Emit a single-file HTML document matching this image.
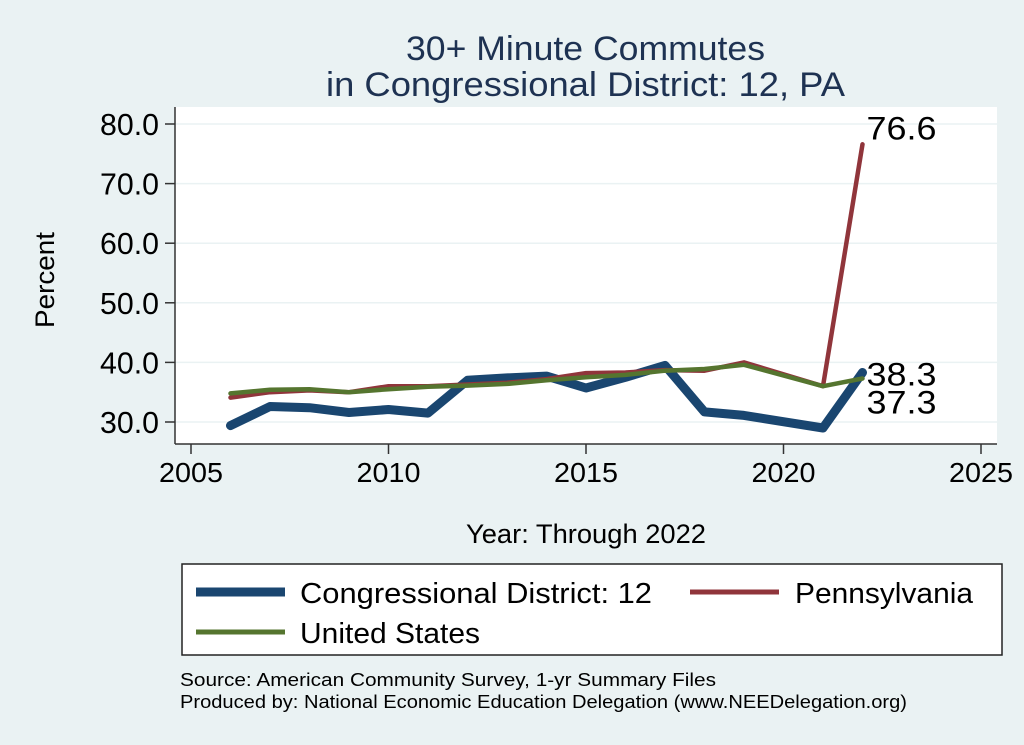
<!DOCTYPE html>
<html><head><meta charset="utf-8"><style>
body{margin:0;background:#eaf2f3;font-family:"Liberation Sans",Arial,sans-serif;}
svg{display:block}
</style></head><body>
<svg width="1024" height="745" viewBox="0 0 1024 745" xmlns="http://www.w3.org/2000/svg" font-family="Liberation Sans, Arial, sans-serif">
<rect width="1024" height="745" fill="#eaf2f3"/>
<text x="406" y="60" font-size="34" textLength="359" lengthAdjust="spacingAndGlyphs" fill="#1e3252">30+ Minute Commutes</text>
<text x="326" y="96" font-size="34" textLength="519" lengthAdjust="spacingAndGlyphs" fill="#1e3252">in Congressional District:  12, PA</text>
<rect x="175" y="107" width="822" height="337" fill="#fff"/>
<g id="grid"></g>
<g id="axes"></g>
<g id="series"></g>
<text x="54" y="328" font-size="27" textLength="96" lengthAdjust="spacingAndGlyphs" transform="rotate(-90 54 328)">Percent</text>
<text x="466" y="543" font-size="27" textLength="240" lengthAdjust="spacingAndGlyphs">Year: Through 2022</text>
<g>
<rect x="182" y="564" width="820" height="91" fill="#fff" stroke="#222" stroke-width="1.5"/>
<line x1="196" y1="592" x2="285" y2="592" stroke="#1a4670" stroke-width="9"/>
<text x="300" y="603" font-size="29" textLength="352" lengthAdjust="spacingAndGlyphs">Congressional District:  12</text>
<line x1="690" y1="592" x2="779" y2="592" stroke="#90353b" stroke-width="5"/>
<text x="795" y="603" font-size="29" textLength="178" lengthAdjust="spacingAndGlyphs">Pennsylvania</text>
<line x1="196" y1="632" x2="285" y2="632" stroke="#55752f" stroke-width="5"/>
<text x="300" y="643" font-size="29" textLength="180" lengthAdjust="spacingAndGlyphs">United States</text>
</g>
<text x="180" y="686" font-size="18" textLength="536" lengthAdjust="spacingAndGlyphs">Source: American Community Survey, 1-yr Summary Files</text>
<text x="180" y="708" font-size="18" textLength="727" lengthAdjust="spacingAndGlyphs">Produced by: National Economic Education Delegation (www.NEEDelegation.org)</text>
</svg>
<script>
const years=[2006,2007,2008,2009,2010,2011,2012,2013,2014,2015,2016,2017,2018,2019,2021,2022];
const cdValues=[29.4,32.6,32.4,31.6,32.1,31.5,37.0,37.4,37.7,35.7,37.5,39.5,31.7,31.1,29.0,38.3];
const paValues=[34.1,35.0,35.3,35.0,36.0,36.0,36.3,36.6,37.2,38.2,38.3,38.7,38.6,40.0,36.0,76.6];
const usValues=[34.8,35.4,35.5,35.0,35.5,35.9,36.1,36.4,37.0,37.5,37.9,38.6,38.9,39.6,36.0,37.3];
const yTicks=[30,40,50,60,70,80];
const xTicks=[2005,2010,2015,2020,2025];
const NS='http://www.w3.org/2000/svg';
const xs=v=>191+(v-2005)*(981-191)/20;
const ys=v=>422-(v-30)*(422-124)/50;
function mk(t,a,p){const e=document.createElementNS(NS,t);for(const k in a)e.setAttribute(k,a[k]);p.appendChild(e);return e;}
const grid=document.getElementById('grid'),axes=document.getElementById('axes'),ser=document.getElementById('series');
yTicks.forEach(v=>{
 const g=mk('line',{x1:175,x2:997,y1:ys(v),y2:ys(v),stroke:'#eaf2f3','stroke-width':1.5},grid);
 
 
 const t=mk('line',{x1:165,x2:175,y1:ys(v),y2:ys(v),stroke:'#333','stroke-width':1.5},axes);
 
 
 const l=mk('text',{x:100,y:ys(v)+11,'font-size':31,textLength:59,lengthAdjust:'spacingAndGlyphs'},axes);
 l.textContent=v.toFixed(1);
 
 
});
xTicks.forEach(v=>{
 const t=mk('line',{x1:xs(v),x2:xs(v),y1:444,y2:454,stroke:'#333','stroke-width':1.5},axes);
 
 
 const l=mk('text',{x:xs(v)-32,y:482,'font-size':28,textLength:64,lengthAdjust:'spacingAndGlyphs'},axes);
 l.textContent=v;
 
 
});
const ya=mk('line',{x1:175,x2:175,y1:107,y2:444,stroke:'#333','stroke-width':1.5},axes);


const xa=mk('line',{x1:175,x2:997,y1:444,y2:444,stroke:'#333','stroke-width':1.5},axes);


function line(vals,color,w,name){
 const d=vals.map((v,i)=>(i?'L':'M')+xs(years[i]).toFixed(1)+','+ys(v).toFixed(1)).join('');
 const p=mk('path',{d:d,fill:'none',stroke:color,'stroke-width':w,'stroke-linejoin':'round','stroke-linecap':'round'},ser);
 
 
}
line(cdValues,'#1a4670',9,'line-congressional-district');
line(paValues,'#90353b',4.5,'line-pennsylvania');
line(usValues,'#55752f',4.5,'line-united-states');
const n=years.length-1;
[[cdValues[n],2,'label-cd-last'],[paValues[n],-16,'label-pa-last'],[usValues[n],24,'label-us-last']].forEach(a=>{
 const t=mk('text',{x:xs(years[n])+4,y:ys(a[0])+11+a[1],'font-size':32,textLength:70,lengthAdjust:'spacingAndGlyphs'},ser);
 t.textContent=a[0].toFixed(1);
 
 
});
</script>
</body></html>
